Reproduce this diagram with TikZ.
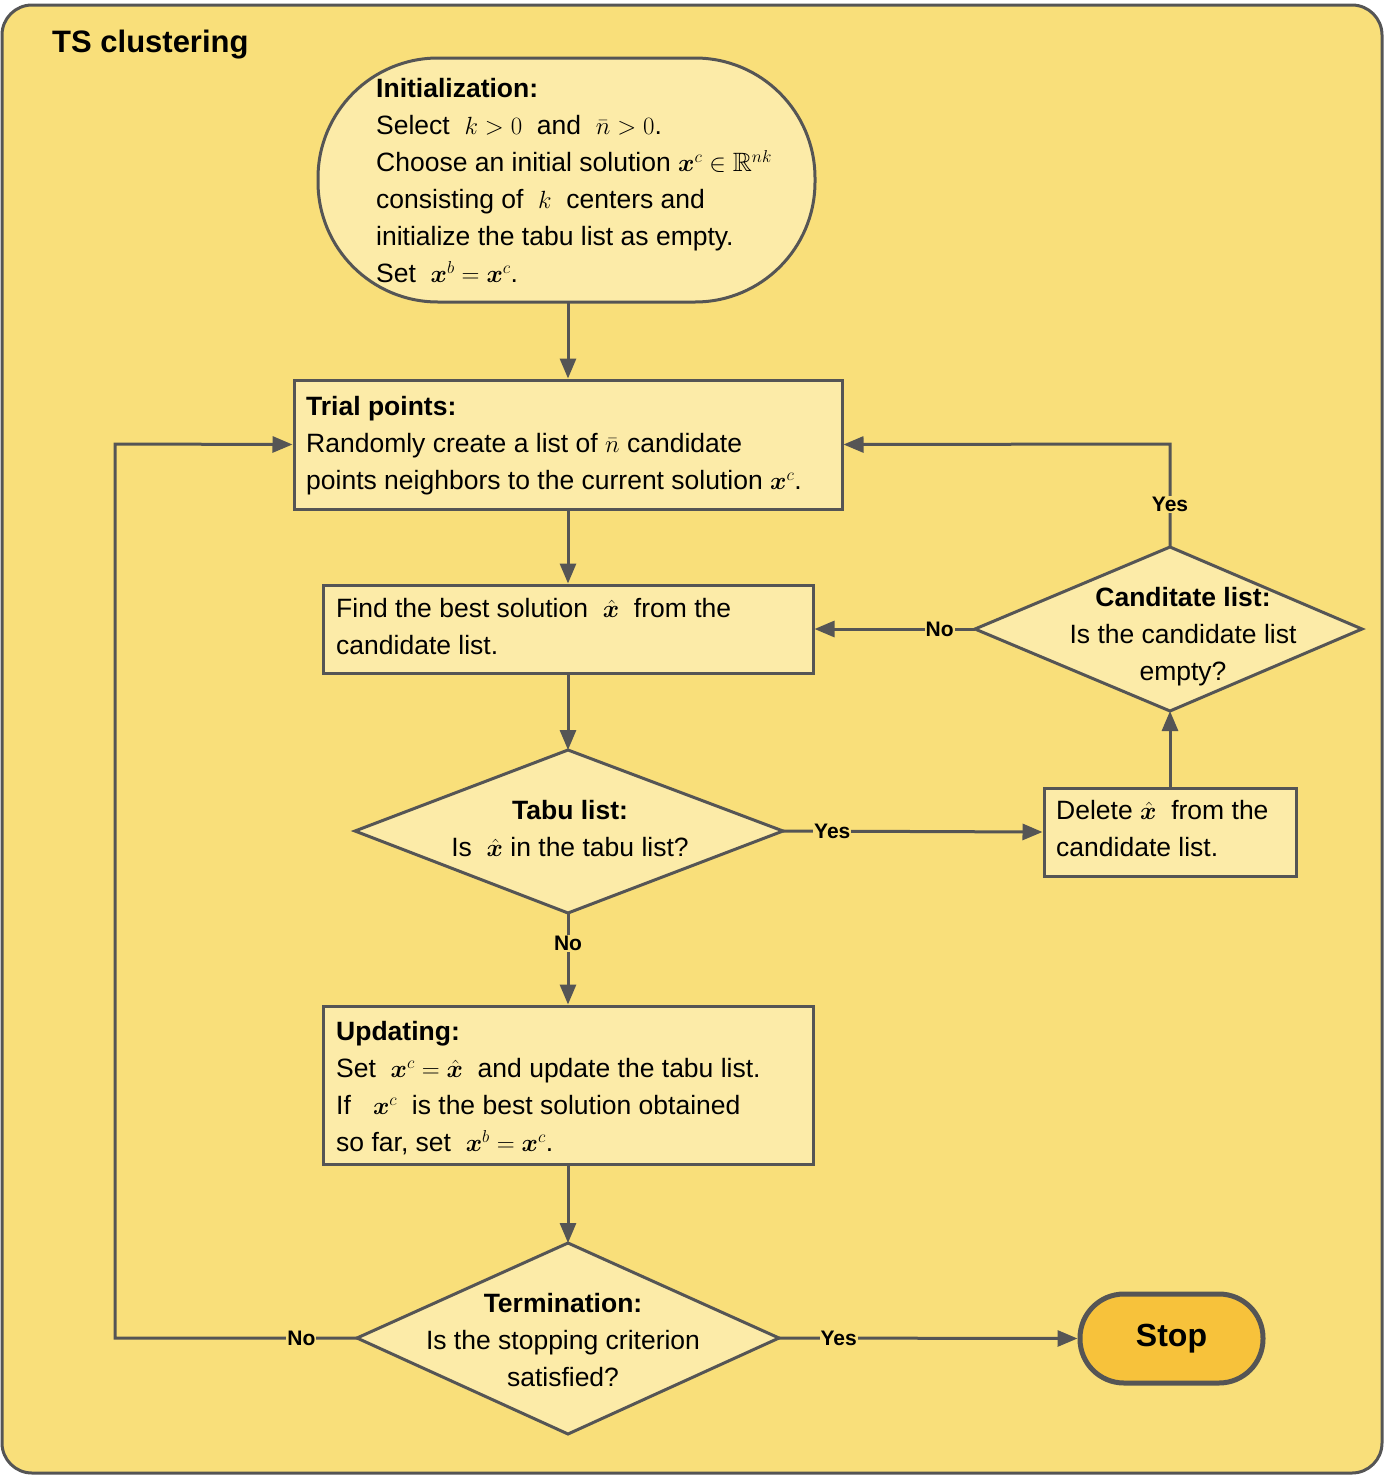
\documentclass[tikz,border=0pt]{standalone}
\usepackage{amsmath,amssymb,bm}
\usepackage{fontspec}
\setmainfont{Liberation Sans}
\usetikzlibrary{arrows.meta}
\definecolor{bg}{HTML}{F9DF7A}
\definecolor{box}{HTML}{FCEBA8}
\definecolor{stopc}{HTML}{F7C23B}
\definecolor{ln}{HTML}{555555}
\tikzset{x=1pt,y=-1pt,
 shp/.style={draw=ln,line width=3pt,fill=box},
 txt/.style={align=left,anchor=north west,inner sep=0pt,font=\fontsize{26.5}{37}\selectfont},
 arr/.style={draw=ln,line width=3pt,-{Triangle[length=20pt,width=16pt]}},
 lab/.style={fill=bg,inner sep=1pt,font=\bfseries\fontsize{21}{24}\selectfont}}
\newcommand{\bx}{\bm{x}}
\newcommand{\hx}{\hat{\bm{x}}}
\begin{document}
\begin{tikzpicture}
\useasboundingbox (0,0) rectangle (1384,1475);
\draw[draw=ln,line width=3pt,fill=bg,rounded corners=30pt] (2,5) rectangle (1382,1473);
\node[anchor=west,inner sep=0pt,font=\bfseries\fontsize{31}{36}\selectfont] (title) at (52,45) {TS clustering};
% init
\draw[shp,rounded corners=120pt] (318,58) rectangle (815,302);
\coordinate (initB) at (568,302);
\node[txt] (init) at (376,78) {\textbf{Initialization:}\\Select \ $k>0$ \ and \ $\bar n>0$.\\Choose an initial solution $\bx^c\in\mathbb{R}^{nk}$\\consisting of \ $k$ \ centers and\\initialize the tabu list as empty.\\Set \ $\bx^b=\bx^c$.};
% trial
\node[shp,minimum width=548pt,minimum height=129pt] (trial) at (568,444.5) {};
\node[txt] at (306,396) {\textbf{Trial points:}\\Randomly create a list of $\bar n$ candidate\\points neighbors to the current solution $\bx^c$.};
% find
\node[shp,minimum width=490pt,minimum height=88pt] (find) at (568,629) {};
\node[txt] at (336,598) {Find the best solution \ $\hx$ \ from the\\candidate list.};
% candidate diamond
\coordinate (cT) at (1170,547); \coordinate (cB) at (1170,711);
\coordinate (cL) at (975,629); \coordinate (cR) at (1362,629);
\draw[shp] (cT)--(cR)--(cB)--(cL)--cycle;
\node[align=center,inner sep=0pt,font=\fontsize{26.5}{37}\selectfont] (cand) at (1183,637) {\textbf{Canditate list:}\\Is the candidate list\\empty?};
% tabu diamond
\coordinate (tT) at (568,750); \coordinate (tB) at (568,913);
\coordinate (tL) at (355,831); \coordinate (tR) at (783,831);
\draw[shp] (tT)--(tR)--(tB)--(tL)--cycle;
\node[align=center,inner sep=0pt,font=\fontsize{26.5}{37}\selectfont] (tabu) at (570,829) {\textbf{Tabu list:}\\Is \ $\hx$ in the tabu list?};
% delete
\node[shp,minimum width=252pt,minimum height=88pt] (del) at (1170,832) {};
\node[txt] at (1056,800) {Delete $\hx$ \ from the\\candidate list.};
% updating
\node[shp,minimum width=490pt,minimum height=158pt] (upd) at (568,1085) {};
\node[txt] at (336,1021) {\textbf{Updating:}\\Set \ $\bx^c=\hx$ \ and update the tabu list.\\If \ \ $\bx^c$ \ is the best solution obtained\\so far, set \ $\bx^b=\bx^c$.};
% termination
\coordinate (eT) at (568,1243); \coordinate (eB) at (568,1434);
\coordinate (eL) at (357,1338); \coordinate (eR) at (779,1338);
\draw[shp] (eT)--(eR)--(eB)--(eL)--cycle;
\node[align=center,inner sep=0pt,font=\fontsize{26.5}{37}\selectfont] (term) at (563,1340) {\textbf{Termination:}\\Is the stopping criterion\\satisfied?};
% stop
\node[draw=ln,line width=5pt,fill=stopc,rounded corners=44pt,minimum width=183pt,minimum height=89pt,font=\bfseries\fontsize{32}{36}\selectfont] (stop) at (1171.5,1338.5) {Stop};
% connectors
\draw[arr] (initB) -- (trial.north);
\draw[arr] (trial.south) -- (find.north);
\draw[arr] (find.south) -- (tT);
\draw[arr] (tB) -- node[lab,pos=0.33]{No} (upd.north);
\draw[arr] (upd.south) -- (eT);
\draw[arr] (eR) -- node[lab,pos=0.2]{Yes} (stop.west);
\coordinate (lb) at (115,1338); \coordinate (lt) at (115,444);
\draw[arr] (eL) -- node[lab,pos=0.23]{No} (lb) -- (lt) -- (trial.west);
\draw[arr] (tR) -- node[lab,pos=0.19]{Yes} (del.west);
\draw[arr] (del.north) -- (cB);
\coordinate (rt) at (1170,444);
\draw[arr] (cT) -- node[lab,pos=0.41]{Yes} (rt) -- (trial.east);
\draw[arr] (cL) -- node[lab,pos=0.22]{No} (find.east);
\end{tikzpicture}
\end{document}
